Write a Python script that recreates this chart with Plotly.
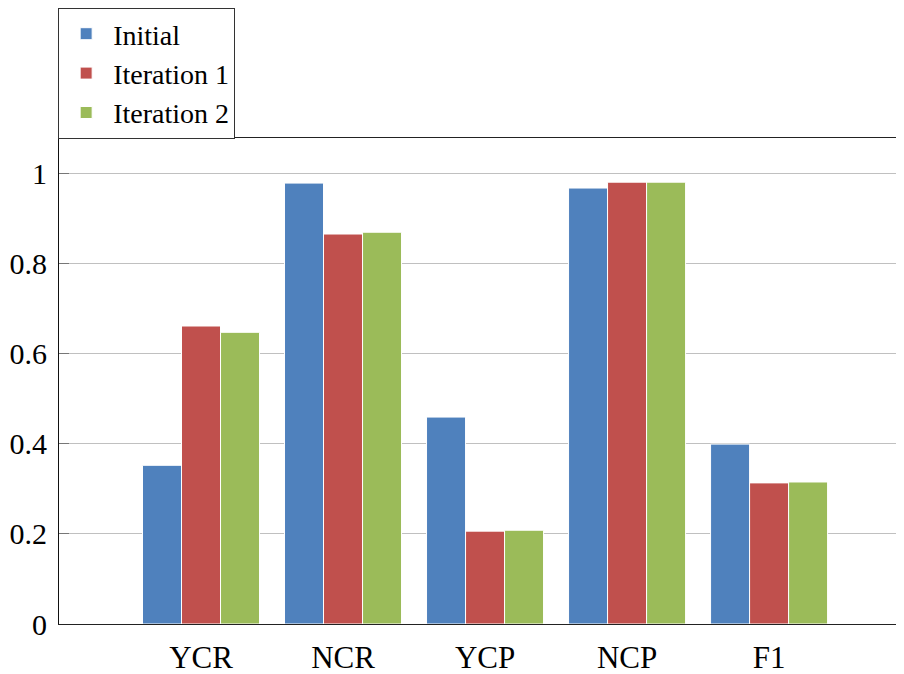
import plotly.graph_objects as go

categories = ["YCR", "NCR", "YCP", "NCP", "F1"]
initial = [0.352, 0.978, 0.459, 0.967, 0.399]
iteration1 = [0.661, 0.865, 0.206, 0.980, 0.313]
iteration2 = [0.647, 0.869, 0.208, 0.980, 0.315]
y_ticks = [0, 0.2, 0.4, 0.6, 0.8, 1]
y_tick_labels = ["0", "0.2", "0.4", "0.6", "0.8", "1"]

series = [
    ("Initial", initial, "#4F81BD"),
    ("Iteration 1", iteration1, "#C0504D"),
    ("Iteration 2", iteration2, "#9BBB59"),
]

fig = go.Figure()
for name, vals, color in series:
    fig.add_trace(go.Bar(
        x=list(range(len(categories))), y=vals, name=name,
        marker=dict(color=color, line=dict(color="white", width=1)),
    ))

font_family = "Liberation Serif"
# page body has an 8px margin, so the figure is sized/offset to compensate
fig.update_layout(
    width=896, height=666,
    margin=dict(l=51, r=0, t=130, b=50, autoexpand=False),
    paper_bgcolor="white", plot_bgcolor="white",
    barmode="group", bargap=0.176, bargroupgap=0.0,
    font=dict(family=font_family, size=31, color="black"),
    showlegend=True,
    legend=dict(
        x=-0.001, y=1.2675, xanchor="left", yanchor="top",
        bordercolor="#333333", borderwidth=1, bgcolor="white",
        font=dict(family=font_family, size=28, color="black"),
        itemwidth=44, tracegroupgap=0,
    ),
    xaxis=dict(
        range=[-1, 4.95], tickmode="array",
        tickvals=list(range(len(categories))), ticktext=categories,
        showgrid=False, zeroline=False, ticks="",
        showline=True, linecolor="#222222", linewidth=1, mirror=True,
        ticklabelstandoff=6, automargin=False,
        tickfont=dict(family=font_family, size=31, color="black"),
    ),
    yaxis=dict(
        range=[0, 1.078], tickmode="array", tickvals=y_ticks, ticktext=y_tick_labels,
        showgrid=True, gridcolor="#c0c0c0", gridwidth=1, zeroline=False,
        showline=True, linecolor="#111111", linewidth=1,
        ticks="inside", ticklen=10, tickcolor="#777777",
        ticklabelstandoff=5, automargin=False,
        tickfont=dict(family=font_family, size=30, color="black"),
    ),
)

fig.write_html("out.html")
